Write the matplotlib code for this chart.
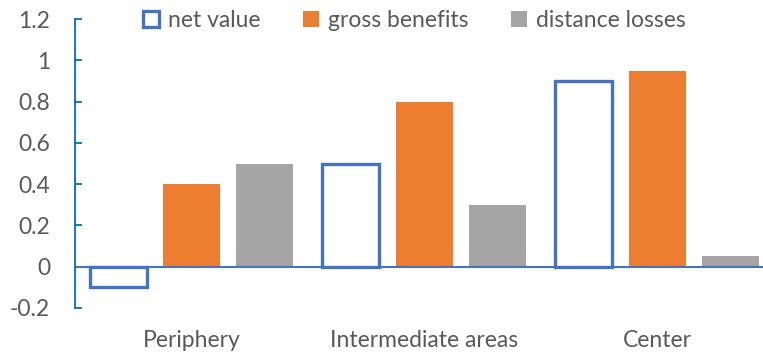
import numpy as np
import matplotlib
matplotlib.use("Agg")
import matplotlib.pyplot as plt
from matplotlib.patches import Patch

categories = ["Periphery", "Intermediate areas", "Center"]
net_value = [-0.1, 0.5, 0.9]
gross_benefits = [0.4, 0.8, 0.95]
distance_losses = [0.5, 0.3, 0.05]

plt.rcParams['font.family'] = ['Lato', 'DejaVu Sans']
grey = '#595959'
blue = '#4472C4'
orange = '#ED7D31'
silver = '#A5A5A5'
fs = 16.5

fig = plt.figure(figsize=(7.63, 3.53), dpi=100)
ax = fig.add_axes([75 / 763, 1 - 308 / 353, 1 - 75 / 763, (308 - 19) / 353])

x = np.arange(len(categories))
w = 0.245
step = 0.315

# gross and distance bars are solid, net value is an outline only
ax.bar(x - step, net_value, w, facecolor='white', edgecolor=blue, linewidth=2.4, zorder=3)
ax.bar(x, gross_benefits, w, color=orange, zorder=2)
ax.bar(x + step, distance_losses, w, color=silver, zorder=2)
ax.axhline(0, color=blue, linewidth=1.5, zorder=2.5)

ax.set_xlim(-0.5, 2.455)
ax.set_ylim(-0.2, 1.2)
ax.set_yticks(np.arange(-0.2, 1.21, 0.2))
ax.set_yticklabels(['-0.2', '0', '0.2', '0.4', '0.6', '0.8', '1', '1.2'])

for s in ['top', 'right', 'bottom']:
    ax.spines[s].set_visible(False)
ax.spines['left'].set_color('#0070C0')
ax.spines['left'].set_linewidth(1.3)
ax.tick_params(axis='y', direction='in', length=5, width=1.3, color='#0070C0',
               labelcolor=grey, labelsize=fs, pad=18)

ax.set_xticks(x)
ax.set_xticklabels(categories)
ax.tick_params(axis='x', length=0, labelcolor=grey, labelsize=fs, pad=16)

handles = [Patch(facecolor='white', edgecolor=blue, linewidth=2.4),
           Patch(facecolor=orange), Patch(facecolor=silver)]
ax.legend(handles, ['net value', 'gross benefits', 'distance losses'],
          loc='center', bbox_to_anchor=(0.493, 0.995), ncol=3, frameon=False,
          fontsize=fs, labelcolor=grey, handlelength=0.7, handleheight=0.7,
          handletextpad=0.4, columnspacing=1.85)

fig.savefig('out.png', dpi=100)
